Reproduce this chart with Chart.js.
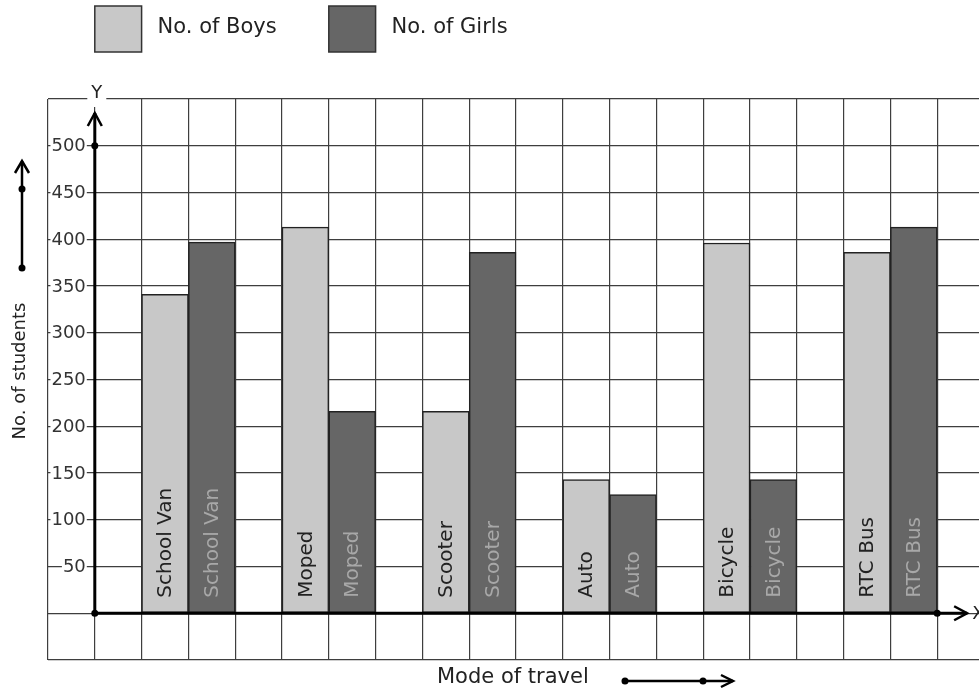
<!DOCTYPE html>
<html>
<head>
<meta charset="utf-8">
<script src="https://cdn.jsdelivr.net/npm/chart.js@4/dist/chart.umd.min.js"></script>
<style>
html,body{margin:0;padding:0;background:#fff;overflow:hidden;}
#c{position:absolute;left:0;top:0;}
</style>
</head>
<body>
<canvas id="c" width="990" height="695"></canvas>
<script>
const categories = ['School Van','Moped','Scooter','Auto','Bicycle','RTC Bus'];
const boys  = [341, 413, 216, 143, 396, 386];
const girls = [397, 216, 386, 127, 143, 413];
const seriesNames = ['No. of Boys','No. of Girls'];
const yTickLabels = [50,100,150,200,250,300,350,400,450,500];
const xTitle = 'Mode of travel';
const yTitle = 'No. of students';

// slot layout: each category uses boys slot, girls slot, then an empty slot
const totalSlots = 20, firstSlot = 2, perGroup = 3;
const slotLabels = Array.from({length: totalSlots}, (_, i) => 's' + i);
const boysSlots = Array(totalSlots).fill(null);
const girlsSlots = Array(totalSlots).fill(null);
const slotNames = Array(totalSlots).fill('');
categories.forEach((c, k) => {
  boysSlots[firstSlot + perGroup * k] = boys[k];
  girlsSlots[firstSlot + perGroup * k + 1] = girls[k];
  slotNames[firstSlot + perGroup * k] = c;
  slotNames[firstSlot + perGroup * k + 1] = c;
});

const FONT = '"DejaVu Sans", sans-serif';
const BOY_FILL = '#c8c8c8', GIRL_FILL = '#666666', EDGE = '#222222';
const GRID = '#3e3e3e';

function chevronUp(ctx, x, y, w, h) {
  ctx.beginPath(); ctx.moveTo(x - w, y + h); ctx.lineTo(x, y); ctx.lineTo(x + w, y + h); ctx.stroke();
}
function chevronRight(ctx, x, y, w, h) {
  ctx.beginPath(); ctx.moveTo(x - w, y - h); ctx.lineTo(x, y); ctx.lineTo(x - w, y + h); ctx.stroke();
}
function dot(ctx, x, y, r) {
  ctx.beginPath(); ctx.arc(x, y, r, 0, Math.PI * 2); ctx.fill();
}

const decor = {
  id: 'decor',
  afterDatasetsDraw(chart) {
    const ctx = chart.ctx;
    const xs = chart.scales.x, ys = chart.scales.y;
    const slotW = xs.getPixelForValue(1) - xs.getPixelForValue(0);
    const ax = (xs.getPixelForValue(0) + xs.getPixelForValue(1)) / 2;
    const y0 = ys.getPixelForValue(0);
    const lastEdge = (xs.getPixelForValue(totalSlots - 2) + xs.getPixelForValue(totalSlots - 1)) / 2;
    ctx.save();

    // tick labels with white backing
    ctx.font = '18px ' + FONT;
    ctx.textAlign = 'right';
    ctx.textBaseline = 'middle';
    yTickLabels.forEach(v => {
      const y = ys.getPixelForValue(v);
      const t = String(v);
      const w = ctx.measureText(t).width;
      ctx.fillStyle = '#fff';
      ctx.fillRect(ax - 9 - w - 1, y - 8, w + 2, 16);
      ctx.fillStyle = '#333';
      ctx.fillText(t, ax - 9, y + 1);
    });

    // axes
    ctx.strokeStyle = '#000'; ctx.fillStyle = '#000';
    ctx.lineWidth = 3; ctx.lineCap = 'butt';
    const yTop = ys.getPixelForValue(535);
    ctx.beginPath(); ctx.moveTo(ax, y0); ctx.lineTo(ax, yTop); ctx.stroke();
    ctx.lineWidth = 2.5;
    chevronUp(ctx, ax, yTop, 7, 13);
    ctx.lineWidth = 3;
    const xEnd = lastEdge + slotW * 0.64;
    ctx.beginPath(); ctx.moveTo(ax, y0); ctx.lineTo(xEnd, y0); ctx.stroke();
    ctx.lineWidth = 2.5;
    chevronRight(ctx, xEnd, y0, 13, 7);
    dot(ctx, ax, y0, 3.5);
    dot(ctx, ax, ys.getPixelForValue(500), 3.5);
    dot(ctx, lastEdge, y0, 3.5);

    // axis letters
    ctx.font = '18px ' + FONT;
    ctx.textAlign = 'center'; ctx.textBaseline = 'middle';
    let w = ctx.measureText('Y').width;
    ctx.fillStyle = '#fff';
    ctx.fillRect(ax + 2 - w / 2 - 4, chart.chartArea.top - 10, w + 8, 18);
    ctx.fillStyle = '#222';
    ctx.fillText('Y', ax + 2, chart.chartArea.top - 6);
    ctx.textAlign = 'left';
    ctx.fillText('X', xEnd + 5, y0 + 1);

    // bar labels
    ctx.font = '20px ' + FONT;
    chart.data.datasets.forEach((ds, di) => {
      const meta = chart.getDatasetMeta(di);
      meta.data.forEach((bar, i) => {
        if (ds.data[i] == null) return;
        ctx.save();
        ctx.translate(bar.x, bar.base - 15);
        ctx.rotate(-Math.PI / 2);
        ctx.textAlign = 'left'; ctx.textBaseline = 'middle';
        ctx.fillStyle = di === 0 ? '#222' : '#a8a8a8';
        ctx.fillText(slotNames[i], 0, 1);
        ctx.restore();
      });
    });

    // legend
    const legendX = [xs.getPixelForValue(1) - slotW / 2, xs.getPixelForValue(6) - slotW / 2];
    chart.data.datasets.forEach((ds, di) => {
      const lx = legendX[di];
      ctx.fillStyle = ds.backgroundColor;
      ctx.strokeStyle = '#333'; ctx.lineWidth = 1.5;
      ctx.fillRect(lx, 6, slotW, 46);
      ctx.strokeRect(lx, 6, slotW, 46);
      ctx.fillStyle = '#222';
      ctx.font = '21px ' + FONT;
      ctx.textAlign = 'left'; ctx.textBaseline = 'middle';
      ctx.fillText(ds.label, lx + slotW + 16, 28);
    });

    // y title with arrow
    ctx.save();
    ctx.translate(20, 371);
    ctx.rotate(-Math.PI / 2);
    ctx.font = '18px ' + FONT;
    ctx.textAlign = 'center'; ctx.textBaseline = 'middle';
    ctx.fillStyle = '#222';
    ctx.fillText(yTitle, 0, 0);
    ctx.restore();
    ctx.strokeStyle = '#000'; ctx.fillStyle = '#000'; ctx.lineWidth = 2.5;
    ctx.beginPath(); ctx.moveTo(22, 268); ctx.lineTo(22, 161); ctx.stroke();
    chevronUp(ctx, 22, 161, 7, 12);
    dot(ctx, 22, 268, 3.5); dot(ctx, 22, 189, 3.5);

    // x title with arrow
    ctx.font = '21px ' + FONT;
    ctx.textAlign = 'left'; ctx.textBaseline = 'middle';
    ctx.fillStyle = '#222';
    ctx.fillText(xTitle, 437, 678);
    ctx.strokeStyle = '#000'; ctx.fillStyle = '#000'; ctx.lineWidth = 2.5;
    ctx.beginPath(); ctx.moveTo(625, 681); ctx.lineTo(733, 681); ctx.stroke();
    chevronRight(ctx, 733, 681, 12, 6);
    dot(ctx, 625, 681, 3.5); dot(ctx, 703, 681, 3.5);

    ctx.restore();
  }
};

new Chart(document.getElementById('c'), {
  type: 'bar',
  data: {
    labels: slotLabels,
    datasets: [
      { label: seriesNames[0], data: boysSlots, backgroundColor: BOY_FILL, borderColor: EDGE, borderWidth: 1.5,
        borderSkipped: false, grouped: false, barPercentage: 1, categoryPercentage: 1 },
      { label: seriesNames[1], data: girlsSlots, backgroundColor: GIRL_FILL, borderColor: EDGE, borderWidth: 1.5,
        borderSkipped: false, grouped: false, barPercentage: 1, categoryPercentage: 1 }
    ]
  },
  options: {
    responsive: false,
    animation: false,
    devicePixelRatio: 1,
    layout: { padding: { left: 48, right: 6, top: 99, bottom: 35 } },
    plugins: { legend: { display: false }, tooltip: { enabled: false } },
    scales: {
      x: {
        type: 'category', offset: true,
        grid: { offset: true, color: GRID, lineWidth: 1.2, drawTicks: false },
        ticks: { display: false },
        border: { display: false }
      },
      y: {
        min: -50, max: 550,
        ticks: { stepSize: 50, display: false },
        grid: { color: GRID, lineWidth: 1.2, drawTicks: false },
        border: { display: false }
      }
    }
  },
  plugins: [decor]
});
</script>
</body>
</html>
